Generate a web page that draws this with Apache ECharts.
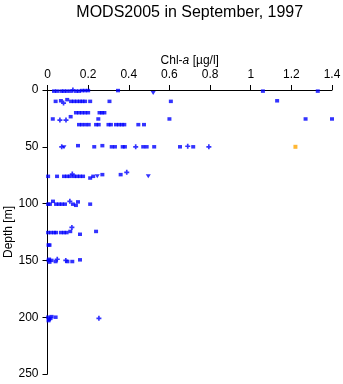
<!DOCTYPE html>
<html>
<head>
<meta charset="utf-8">
<title>MODS2005 in September, 1997</title>
<script src="https://cdn.jsdelivr.net/npm/echarts@6/dist/echarts.min.js"></script>
<style>
  html, body { margin: 0; padding: 0; background: #fff; }
  #chart { width: 343px; height: 384px; }
</style>
</head>
<body>
<div id="chart"></div>
<script>
// Chlorophyll-a observations as [chl-a (µg/l), depth (m)], grouped by marker type
const squareObs = [
  [0.032,1],[0.047,1],[0.068,1],[0.081,1],[0.096,1],[0.114,1],[0.14,1],[0.155,1],[0.17,0.5],[0.185,0.5],[0.2,0.5],[0.347,0.5],[1.06,1],[1.33,1],
  [0.04,10],[0.066,9.5],[0.097,8.5],[0.116,10],[0.13,10],[0.145,10],[0.16,10],[0.172,10],[0.185,10],[0.21,10],[0.305,10],[0.607,10],[1.13,9.5],
  [0.14,20],[0.155,20],[0.17,20],[0.185,20],[0.2,20],[0.256,20],[0.268,20],[0.28,20],
  [0.114,23.5],
  [0.026,25.5],[0.25,25.5],[0.6,25.5],[1.27,25.5],[1.40,25.5],
  [0.155,30.5],[0.17,30.5],[0.187,30.5],[0.203,30.5],[0.239,30.5],[0.252,30.5],[0.3,30.5],[0.312,30.5],[0.337,30.5],[0.352,30.5],[0.366,30.5],[0.378,30.5],[0.447,30.5],[0.475,30.5],
  [0.15,49],[0.23,50],[0.27,49],[0.316,50],[0.332,50],[0.37,50],[0.381,50],[0.471,50],[0.488,50],[0.525,50],[0.652,50],[0.717,50],
  [0.003,76],[0.047,76],[0.081,76],[0.096,76],[0.11,76],[0.13,76],[0.145,76],[0.16,76],[0.175,76],[0.21,77.5],[0.225,76],[0.27,74.5],[0.36,74.5],
  [0.003,100.5],[0.012,100.5],[0.027,98],[0.042,100.5],[0.057,100.5],[0.071,100.5],[0.086,100.5],[0.125,100.5],[0.14,101.5],[0.15,98.5],[0.21,100.5],
  [0.003,125.5],[0.017,125.5],[0.032,125.5],[0.042,125.5],[0.066,125.5],[0.081,125.5],[0.094,125.5],[0.112,124.5],[0.16,127],[0.239,124.5],
  [0.005,136.5],[0.01,136.5],
  [0.005,150],[0.01,151.5],[0.02,150],[0.008,149],[0.04,151],[0.098,151],[0.122,151],[0.16,149.5],
  [0.003,200],[0.008,202],[0.015,201],[0.02,199.5],[0.005,203],[0.04,200]
];
const plusObs = [
  [0.125,0],[0.079,11.5],[0.061,26.5],[0.091,26.5],[0.07,50],[0.434,50],[0.69,49.5],[0.794,50],
  [0.122,74],[0.39,72.5],[0.11,98],[0.12,121],[0.048,149],[0.09,150],[0.253,201]
];
const triangleObs = [[0.52,2.6],[0.081,50.5],[0.245,76],[0.496,76]];
const highlightObs = [[1.22,50]];

// Axis ranges and ticks
const chlTicks = [0, 0.2, 0.4, 0.6, 0.8, 1, 1.2, 1.4];
const depthTicks = [0, 50, 100, 150, 200, 250];

const BLUE = '#0000ff';
const ORANGE = '#ffa500';
const FONT = 'Liberation Sans, Arial, sans-serif';
const PLUS = 'path://M2,0H4V2H6V4H4V6H2V4H0V2H2Z';

const chart = echarts.init(document.getElementById('chart'), null, { renderer: 'canvas' });

const grid = { left: 47.5, top: 90, right: 11, bottom: 10 };

chart.setOption({
  animation: false,
  backgroundColor: '#fff',
  graphic: [{
    type: 'text',
    x: 47.5 + (343 - 47.5 - 11) / 2,
    y: 13,
    style: {
      text: 'MODS2005 in September, 1997',
      font: '16px ' + FONT,
      fill: '#000',
      textAlign: 'center',
      textVerticalAlign: 'middle'
    }
  }],
  grid: Object.assign({ outerBoundsMode: 'none', containLabel: false }, grid),
  xAxis: {
    type: 'value',
    position: 'top',
    min: chlTicks[0],
    max: chlTicks[chlTicks.length - 1],
    interval: 0.2,
    name: 'Chl-{i|a} [µg/l]',
    nameLocation: 'middle',
    nameGap: 23,
    nameMoveOverlap: false,
    nameTextStyle: {
      fontFamily: FONT, fontSize: 12, color: '#000',
      rich: { i: { fontFamily: FONT, fontSize: 12, fontStyle: 'italic', color: '#000' } }
    },
    axisLine: { show: true, lineStyle: { color: '#000', width: 1 } },
    axisTick: { show: true, inside: false, length: 5, lineStyle: { color: '#000' } },
    axisLabel: { margin: 9, fontFamily: FONT, fontSize: 12, color: '#000' },
    splitLine: { show: false }
  },
  yAxis: {
    type: 'value',
    inverse: true,
    min: depthTicks[0],
    max: depthTicks[depthTicks.length - 1],
    interval: 50,
    name: 'Depth [m]',
    nameLocation: 'middle',
    nameGap: 33,
    nameMoveOverlap: false,
    nameRotate: 90,
    nameTextStyle: { fontFamily: FONT, fontSize: 12, color: '#000' },
    axisLine: { show: true, lineStyle: { color: '#000', width: 1 } },
    axisTick: { show: true, inside: false, length: 5, lineStyle: { color: '#000' } },
    axisLabel: { margin: 9, fontFamily: FONT, fontSize: 12, color: '#000' },
    splitLine: { show: false }
  },
  series: [
    {
      type: 'scatter', data: squareObs,
      symbol: 'rect', symbolSize: [4, 3.5],
      itemStyle: { color: BLUE }
    },
    {
      type: 'scatter', data: plusObs,
      symbol: PLUS, symbolSize: 5,
      itemStyle: { color: BLUE }
    },
    {
      type: 'scatter', data: triangleObs,
      symbol: 'triangle', symbolRotate: 180, symbolSize: [5, 4],
      itemStyle: { color: BLUE }
    },
    {
      type: 'scatter', data: highlightObs,
      symbol: 'rect', symbolSize: [4, 4],
      itemStyle: { color: ORANGE }
    }
  ]
});
</script>
</body>
</html>
